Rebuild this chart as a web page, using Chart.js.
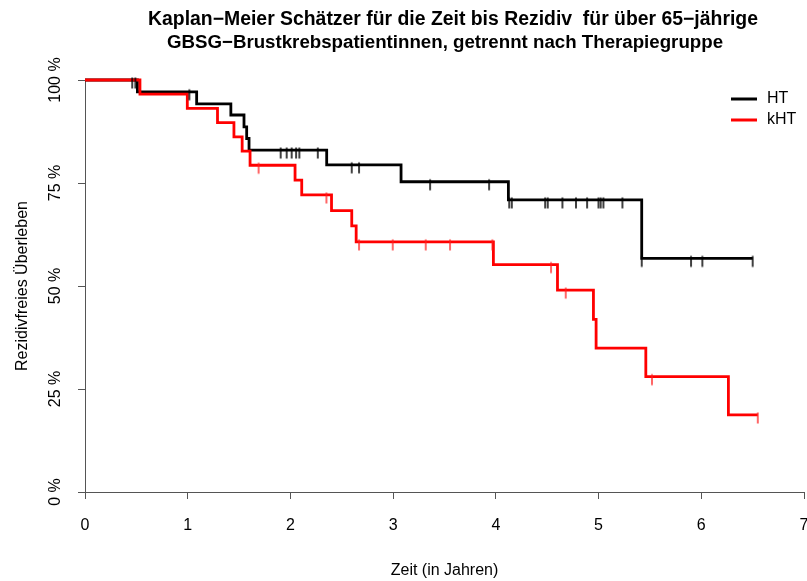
<!DOCTYPE html>
<html><head><meta charset="utf-8">
<script src="https://cdn.jsdelivr.net/npm/chart.js@4.4.0/dist/chart.umd.min.js"></script>
<style>html,body{margin:0;padding:0;background:#fff;} canvas{display:block;}</style>
</head><body>
<canvas id="c" width="807" height="581"></canvas>
<script>
// ---- data ----
const titleLines = [
  'Kaplan\u2212Meier Sch\u00e4tzer f\u00fcr die Zeit bis Rezidiv  f\u00fcr \u00fcber 65\u2212j\u00e4hrige',
  'GBSG\u2212Brustkrebspatientinnen, getrennt nach Therapiegruppe'
];
const xTitle = 'Zeit (in Jahren)';
const yTitle = 'Rezidivfreies \u00dcberleben';
const xTickValues = [0, 1, 2, 3, 4, 5, 6, 7];
const xTickLabels = ['0', '1', '2', '3', '4', '5', '6', '7'];
const yTickValues = [0, 0.25, 0.5, 0.75, 1];
const yTickLabels = ['0 %', '25 %', '50 %', '75 %', '100 %'];
const seriesNames = ['HT', 'kHT'];

// HT: event times and survival after each event (last entry = end of follow-up)
const htTimes = [0, 0.51, 1.087, 1.42, 1.548, 1.574, 1.597, 2.353, 3.077, 4.122, 5.42, 6.50];
const htSurv  = [1, 0.9714, 0.942, 0.915, 0.886, 0.858, 0.830, 0.794, 0.753, 0.709, 0.567, 0.567];
const htCensorTimes = [0.46, 0.49, 1.016, 1.905, 1.963, 2.012, 2.055, 2.087, 2.266, 2.597, 2.668, 3.36, 3.934,
  4.13, 4.155, 4.48, 4.505, 4.648, 4.78, 4.888, 4.999, 5.02, 5.047, 5.232, 5.42, 5.90, 6.01, 6.50];
const htCensorSurv = [1, 1, 0.9714, 0.830, 0.830, 0.830, 0.830, 0.830, 0.830, 0.794, 0.794, 0.753, 0.753,
  0.709, 0.709, 0.709, 0.709, 0.709, 0.709, 0.709, 0.709, 0.709, 0.709, 0.709, 0.567, 0.567, 0.567, 0.567];

// kHT
const khtTimes = [0, 0.535, 0.996, 1.29, 1.45, 1.53, 1.607, 2.045, 2.11, 2.40, 2.597, 2.64, 3.976, 4.60, 4.95, 4.976, 5.46, 6.264, 6.55];
const khtSurv  = [1, 0.9655, 0.931, 0.8966, 0.862, 0.8276, 0.7931, 0.757, 0.721, 0.683, 0.646, 0.607, 0.552, 0.490, 0.419, 0.349, 0.280, 0.187, 0.187];
const khtCensorTimes = [1.69, 2.35, 2.668, 2.996, 3.317, 3.554, 3.966, 4.537, 4.68, 5.52, 6.55];
const khtCensorSurv  = [0.7931, 0.721, 0.607, 0.607, 0.607, 0.607, 0.607, 0.552, 0.490, 0.280, 0.187];

const colors = ['#000000', '#ff0000'];
const FONT = "'Liberation Sans', Arial, Helvetica, sans-serif";
const FS = 16;

function pts(xs, ys) { return xs.map((x, i) => ({x: x, y: ys[i]})); }

function censorMark(color) {
  const c = document.createElement('canvas');
  c.width = 6; c.height = 24;
  const g = c.getContext('2d');
  g.strokeStyle = color; g.lineWidth = 1.5;
  g.beginPath(); g.moveTo(3, 9.5); g.lineTo(3, 20.5); g.stroke();
  return c;
}

const decorPlugin = {
  id: 'decor',
  afterDraw(chart) {
    const ctx = chart.ctx;
    const ys = chart.scales.y;
    ctx.save();
    // title
    ctx.fillStyle = '#000';
    ctx.textAlign = 'center';
    ctx.textBaseline = 'middle';
    ctx.font = 'bold 19.4px ' + FONT;
    ctx.fillText(titleLines[0], 453, 20);
    ctx.font = 'bold 18.7px ' + FONT;
    ctx.fillText(titleLines[1], 445, 43);
    // y tick labels (rotated)
    ctx.font = FS + 'px ' + FONT;
    yTickValues.forEach((v, i) => {
      const y = ys.getPixelForValue(v);
      ctx.save();
      ctx.translate(56, y);
      ctx.rotate(-Math.PI / 2);
      ctx.textAlign = 'center';
      ctx.textBaseline = 'middle';
      ctx.fillText(yTickLabels[i], 0, 0);
      ctx.restore();
    });
    // legend
    const ly = [99, 120];
    seriesNames.forEach((n, i) => {
      ctx.strokeStyle = colors[i];
      ctx.lineWidth = 3;
      ctx.beginPath(); ctx.moveTo(731, ly[i]); ctx.lineTo(757, ly[i]); ctx.stroke();
      ctx.fillStyle = '#000';
      ctx.textAlign = 'left';
      ctx.textBaseline = 'middle';
      ctx.font = FS + 'px ' + FONT;
      ctx.fillText(n, 767, ly[i]);
    });
    ctx.restore();
  }
};

new Chart(document.getElementById('c'), {
  type: 'scatter',
  data: {
    datasets: [
      { label: seriesNames[0], data: pts(htTimes, htSurv), showLine: true, stepped: 'before',
        borderColor: colors[0], borderWidth: 2.8, pointRadius: 0, fill: false, order: 2, clip: false },
      { label: seriesNames[1], data: pts(khtTimes, khtSurv), showLine: true, stepped: 'before',
        borderColor: colors[1], borderWidth: 2.8, pointRadius: 0, fill: false, order: 1, clip: false },
      { label: seriesNames[0] + ' zensiert', data: pts(htCensorTimes, htCensorSurv), showLine: false,
        pointStyle: censorMark('#000000'), pointRadius: 6, order: 0, clip: false },
      { label: seriesNames[1] + ' zensiert', data: pts(khtCensorTimes, khtCensorSurv), showLine: false,
        pointStyle: censorMark('rgba(255,30,30,0.9)'), pointRadius: 6, order: 0, clip: false }
    ]
  },
  options: {
    responsive: false,
    animation: false,
    devicePixelRatio: 1,
    layout: { autoPadding: false, padding: { left: 0, right: 3, top: 80, bottom: 0 } },
    plugins: { legend: { display: false }, tooltip: { enabled: false }, title: { display: false } },
    scales: {
      x: {
        type: 'linear', min: 0, max: 7,
        afterFit(s) { s.height = 89; s.paddingLeft = 0; s.paddingRight = 0; },
        afterBuildTicks(s) { s.ticks = xTickValues.map(v => ({value: v})); },
        ticks: { color: '#000', font: { family: FONT, size: FS }, padding: 17,
                 maxRotation: 0, callback: (v) => xTickLabels[xTickValues.indexOf(v)] },
        grid: { drawOnChartArea: false, drawTicks: true, tickLength: 7, color: '#555', lineWidth: 1 },
        border: { display: true, color: '#555', width: 1 },
        title: { display: true, text: xTitle, color: '#000', font: { family: FONT, size: FS },
                 padding: { top: 0, bottom: 0.4 } }
      },
      y: {
        type: 'linear', min: 0, max: 1,
        afterFit(s) { s.width = 85; s.paddingTop = 0; s.paddingBottom = 0; },
        afterBuildTicks(s) { s.ticks = yTickValues.map(v => ({value: v})); },
        ticks: { display: false },
        grid: { drawOnChartArea: false, drawTicks: true, tickLength: 7, color: '#555', lineWidth: 1 },
        border: { display: true, color: '#555', width: 1 },
        title: { display: true, text: yTitle, color: '#000', font: { family: FONT, size: FS },
                 padding: { top: 13.4, bottom: 0 } }
      }
    }
  },
  plugins: [decorPlugin]
});
</script>
</body></html>
